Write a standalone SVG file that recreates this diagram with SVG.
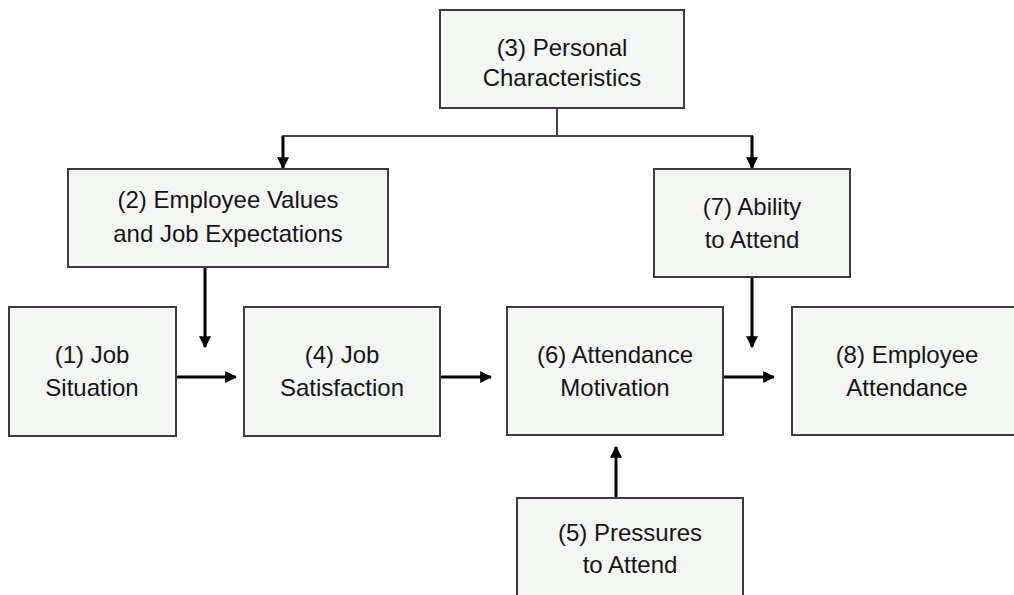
<svg xmlns="http://www.w3.org/2000/svg" width="1014" height="595" viewBox="0 0 1014 595">
<style>
.box{fill:#f4f6f4;stroke:#3c3c3c;stroke-width:2}
.t{font-family:"Liberation Sans",Arial,sans-serif;font-size:24px;fill:#151515;text-anchor:middle}
.ln{stroke:#444;stroke-width:2;fill:none}
.ar{stroke:#000;stroke-width:3;fill:none;marker-end:url(#ah)}
</style>
<defs>
<marker id="ah" viewBox="0 0 10 10" refX="9" refY="5" markerWidth="4" markerHeight="4" markerUnits="strokeWidth" orient="auto">
<path d="M0,0 L10,5 L0,10 z" fill="#000"/>
</marker>
</defs>
<rect width="1014" height="595" fill="#fff"/>
<g id="connectors">
<line class="ln" x1="557" y1="108" x2="557" y2="136"/>
<line class="ln" x1="282" y1="136" x2="753" y2="136"/>
<line class="ar" x1="283" y1="136" x2="283" y2="168"/>
<line class="ar" x1="752" y1="136" x2="752" y2="168"/>
<line class="ar" x1="205" y1="267" x2="205" y2="347"/>
<line class="ar" x1="752" y1="277" x2="752" y2="347"/>
<line class="ar" x1="176" y1="377" x2="236" y2="377"/>
<line class="ar" x1="440" y1="377" x2="491" y2="377"/>
<line class="ar" x1="722" y1="377" x2="774" y2="377"/>
<line class="ar" x1="616" y1="498" x2="616" y2="447"/>
</g>
<g id="n3"><rect class="box" x="440" y="10" width="244" height="98"/>
<text class="t" x="562" y="56">(3) Personal</text><text class="t" x="562" y="86">Characteristics</text></g>
<g id="n2"><rect class="box" x="68" y="169" width="320" height="98"/>
<text class="t" x="228" y="208">(2) Employee Values</text><text class="t" x="228" y="242">and Job Expectations</text></g>
<g id="n7"><rect class="box" x="654" y="169" width="196" height="108"/>
<text class="t" x="752" y="215">(7) Ability</text><text class="t" x="752" y="248">to Attend</text></g>
<g id="n1"><rect class="box" x="9" y="307" width="167" height="129"/>
<text class="t" x="92" y="363">(1) Job</text><text class="t" x="92" y="396">Situation</text></g>
<g id="n4"><rect class="box" x="244" y="307" width="196" height="129"/>
<text class="t" x="342" y="363">(4) Job</text><text class="t" x="342" y="396">Satisfaction</text></g>
<g id="n6"><rect class="box" x="507" y="307" width="216" height="128"/>
<text class="t" x="615" y="363">(6) Attendance</text><text class="t" x="615" y="396">Motivation</text></g>
<g id="n8"><rect class="box" x="792" y="307" width="230" height="128"/>
<text class="t" x="907" y="363">(8) Employee</text><text class="t" x="907" y="396">Attendance</text></g>
<g id="n5"><rect class="box" x="517" y="498" width="226" height="110"/>
<text class="t" x="630" y="541">(5) Pressures</text><text class="t" x="630" y="573">to Attend</text></g>
</svg>
